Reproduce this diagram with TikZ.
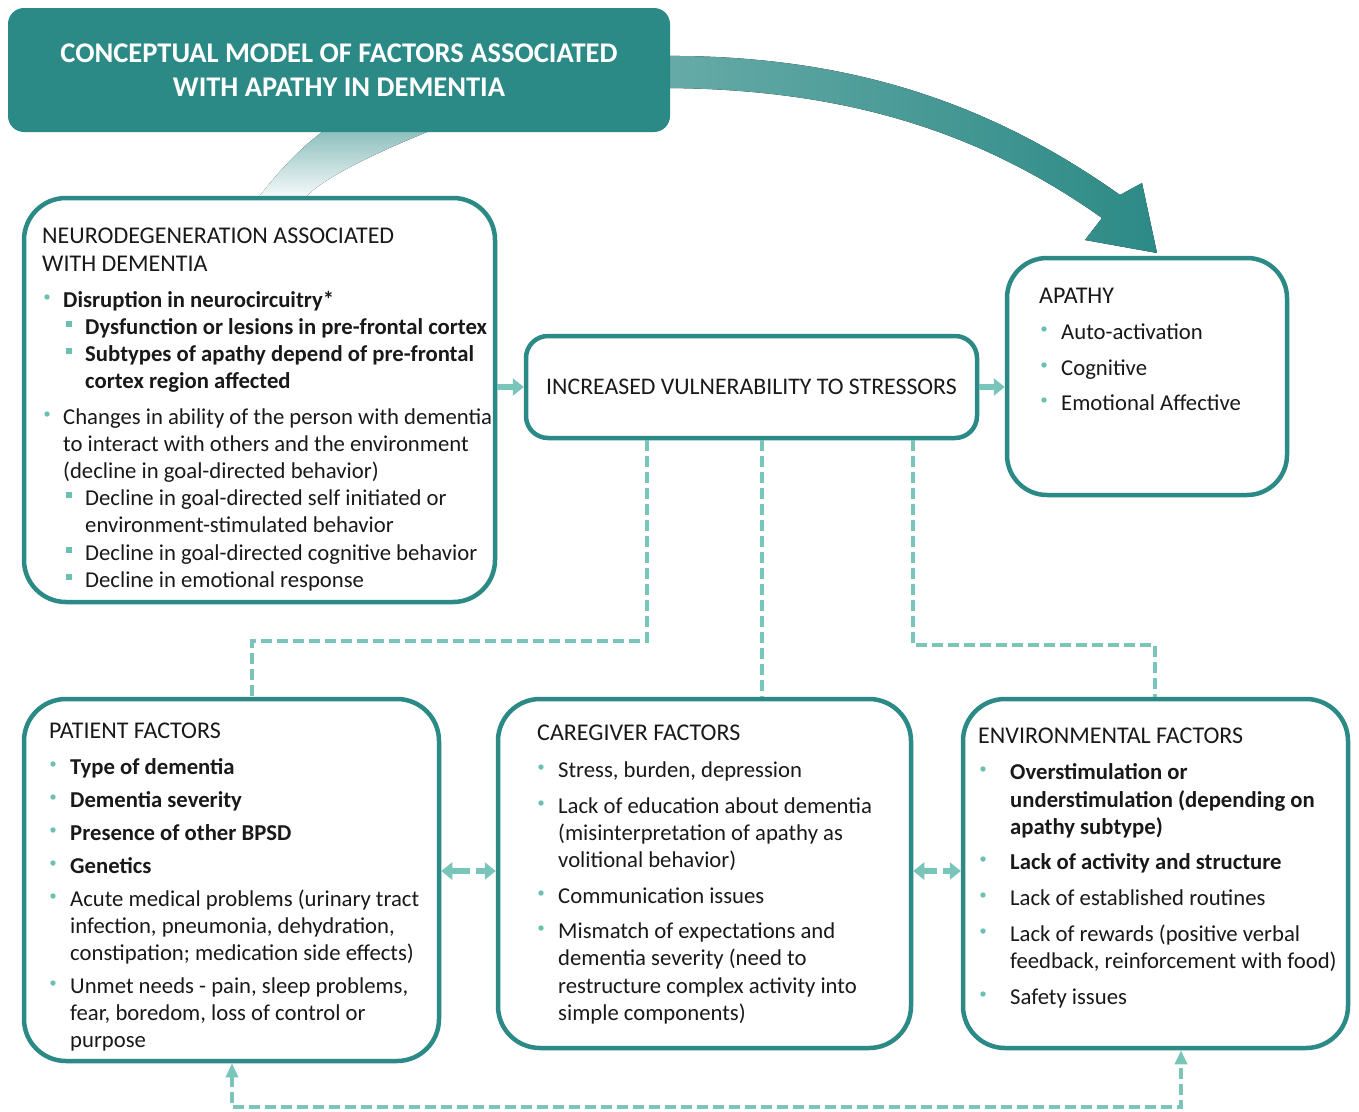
\documentclass[tikz,border=0pt]{standalone}
\usepackage{fontspec}
\setmainfont{Carlito}
\usetikzlibrary{arrows.meta}
\definecolor{tealD}{RGB}{44,138,134}
\definecolor{tealL}{RGB}{122,197,186}
\definecolor{bulc}{RGB}{108,192,178}
\definecolor{txtc}{RGB}{25,25,25}
\newcommand\tline[5][txt]{\node[#1] (#2) at (#3,#4) {#5};}
\newcommand\cbul[2]{\fill[bulc] (#1,#2) circle (2.7pt);}
\newcommand\sbul[2]{\fill[bulc] (#1-2.8,#2-2.8) rectangle ++(5.6,5.6);}
\begin{document}
\begin{tikzpicture}[x=1pt,y=-1pt,
  box/.style={draw=tealD, line width=4.5pt, fill=white, rounded corners=42pt, inner sep=0pt},
  txt/.style={anchor=base west, inner sep=0pt, text=txtc, font=\fontsize{22.7}{27}\selectfont},
  btxt/.style={txt, font=\fontsize{22.7}{27}\selectfont\bfseries},
  htxt/.style={txt, font=\fontsize{24}{28}\selectfont},
  larrow/.style={draw=tealL, line width=6pt, -{Triangle[length=11pt,width=17pt]}},
  dline/.style={draw=tealL, line width=4pt, dash pattern=on 11pt off 5pt},
  dtip/.style={{Triangle[length=14pt,width=12pt]}-{Triangle[length=14pt,width=12pt]}}
]
\useasboundingbox[fill=white] (0,0) rectangle (1359,1111);

% big curved arrow
\fill[left color=tealD!72!white, right color=tealD]
  (660,56) .. controls (860,54) and (1000,110) .. (1120,195)
  -- (1142,183) -- (1157,253) -- (1085,240) -- (1102,218)
  .. controls (985,135) and (850,88) .. (660,88) -- cycle;
% faded swoosh
\fill[top color=tealD!55!white, bottom color=tealD!4!white]
  (325,130) -- (432,130) .. controls (370,155) and (320,180) .. (305,198)
  -- (258,198) .. controls (280,170) and (300,148) .. (325,130) -- cycle;

% title
\node[fill=tealD, rounded corners=16pt, minimum width=662pt, minimum height=124pt,
  text=white, align=center, font=\fontsize{28.5}{34}\selectfont\bfseries] (title) at (339,70)
  {CONCEPTUAL MODEL OF FACTORS ASSOCIATED\\WITH APATHY IN DEMENTIA};

% boxes
\node[box, minimum width=471pt, minimum height=404pt] (neuro) at (259.5,400) {};
\node[box, rounded corners=22pt, minimum width=451pt, minimum height=102pt,
  text=txtc, font=\fontsize{23.8}{28}\selectfont] (vuln) at (751.5,387) {INCREASED VULNERABILITY TO STRESSORS};
\node[box, rounded corners=40pt, minimum width=280pt, minimum height=237pt] (apathy) at (1147,376.5) {};
\node[box, minimum width=415pt, minimum height=362pt] (patient) at (231.5,880) {};
\node[box, minimum width=413pt, minimum height=349pt] (caregiver) at (704.5,873.5) {};
\node[box, minimum width=385pt, minimum height=349pt] (env) at (1155.5,873.5) {};

% neuro text
\tline[htxt]{n1}{42}{243.5}{NEURODEGENERATION ASSOCIATED}
\tline[htxt]{n2}{42}{271.5}{WITH DEMENTIA}
\cbul{47}{297}\tline[btxt]{n3}{63}{307.5}{Disruption in neurocircuitry*}
\sbul{69}{324}\tline[btxt]{n4}{85}{334.5}{Dysfunction or lesions in pre-frontal cortex}
\sbul{69}{351}\tline[btxt]{n5}{85}{361.5}{Subtypes of apathy depend of pre-frontal}
\tline[btxt]{n6}{85}{388.5}{cortex region affected}
\cbul{47}{414}\tline{n7}{63}{424.5}{Changes in ability of the person with dementia}
\tline{n8}{63}{451.5}{to interact with others and the environment}
\tline{n9}{63}{478.5}{(decline in goal-directed behavior)}
\sbul{69}{495}\tline{n10}{85}{505.5}{Decline in goal-directed self initiated or}
\tline{n11}{85}{532.5}{environment-stimulated behavior}
\sbul{69}{550}\tline{n12}{85}{560}{Decline in goal-directed cognitive behavior}
\sbul{69}{577}\tline{n13}{85}{587}{Decline in emotional response}

% apathy text
\tline[htxt]{a1}{1039}{303.5}{APATHY}
\cbul{1044}{329}\tline{a2}{1061}{339.5}{Auto-activation}
\cbul{1044}{365}\tline{a3}{1061}{375.5}{Cognitive}
\cbul{1044}{400}\tline{a4}{1061}{410.5}{Emotional Affective}

% patient text
\tline[htxt]{p0}{49}{738.5}{PATIENT FACTORS}
\cbul{53}{764}\tline[btxt]{p1}{70}{774.5}{Type of dementia}
\cbul{53}{797}\tline[btxt]{p2}{70}{807.5}{Dementia severity}
\cbul{53}{830}\tline[btxt]{p3}{70}{840.5}{Presence of other BPSD}
\cbul{53}{863}\tline[btxt]{p4}{70}{873.5}{Genetics}
\cbul{53}{896}\tline{p5}{70}{906.5}{Acute medical problems (urinary tract}
\tline{p6}{70}{933.5}{infection, pneumonia, dehydration,}
\tline{p7}{70}{960.5}{constipation; medication side effects)}
\cbul{53}{983}\tline{p8}{70}{993.5}{Unmet needs - pain, sleep problems,}
\tline{p9}{70}{1020.5}{fear, boredom, loss of control or}
\tline{p10}{70}{1047.5}{purpose}

% caregiver text
\tline[htxt]{c0}{537}{740.5}{CAREGIVER FACTORS}
\cbul{541}{767}\tline{c1}{558}{777.5}{Stress, burden, depression}
\cbul{541}{803}\tline{c2}{558}{813.5}{Lack of education about dementia}
\tline{c3}{558}{840.5}{(misinterpretation of apathy as}
\tline{c4}{558}{867.5}{volitional behavior)}
\cbul{541}{893}\tline{c5}{558}{903.5}{Communication issues}
\cbul{541}{928}\tline{c6}{558}{938.5}{Mismatch of expectations and}
\tline{c7}{558}{965.5}{dementia severity (need to}
\tline{c8}{558}{993}{restructure complex activity into}
\tline{c9}{558}{1020}{simple components)}

% environmental text
\tline[htxt]{e0}{978}{743.5}{ENVIRONMENTAL FACTORS}
\cbul{983}{769}\tline[btxt]{e1}{1010}{779.5}{Overstimulation or}
\tline[btxt]{e2}{1010}{807}{understimulation (depending on}
\tline[btxt]{e3}{1010}{834.5}{apathy subtype)}
\cbul{983}{859}\tline[btxt]{e4}{1010}{869.5}{Lack of activity and structure}
\cbul{983}{895}\tline{e5}{1010}{905.5}{Lack of established routines}
\cbul{983}{931}\tline{e6}{1010}{941.5}{Lack of rewards (positive verbal}
\tline{e7}{1010}{968.5}{feedback, reinforcement with food)}
\cbul{983}{994}\tline{e8}{1010}{1004.5}{Safety issues}

% short arrows
\draw[larrow] (neuro.east |- vuln.west) -- (vuln.west);
\draw[larrow] (vuln.east) -- (apathy.west |- vuln.east);
\coordinate (pcl) at (470,871);
\coordinate (pcr) at (476,871);
\coordinate (cel) at (937,871);
\coordinate (cer) at (943,871);
\draw[larrow] (pcl) -- (patient.east |- pcl);
\draw[larrow] (pcr) -- (caregiver.west |- pcr);
\draw[larrow] (cel) -- (caregiver.east |- cel);
\draw[larrow] (cer) -- (env.west |- cer);

% dashed connectors
\coordinate (x1) at (647,641);
\coordinate (x2) at (252,641);
\coordinate (x3) at (762,0);
\coordinate (x4) at (913,645);
\coordinate (x5) at (1155,645);
\coordinate (x6) at (232,1107);
\coordinate (x7) at (1181,1107);
\draw[dline] (vuln.south -| x1) -- (x1) -- (x2) -- (patient.north -| x2);
\draw[dline] (vuln.south -| x3) -- (caregiver.north -| x3);
\draw[dline] (vuln.south -| x4) -- (x4) -- (x5) -- (env.north -| x5);
\draw[dline, dtip] (patient.south -| x6) -- (x6) -- (x7) -- (env.south -| x7);
\end{tikzpicture}
\end{document}
